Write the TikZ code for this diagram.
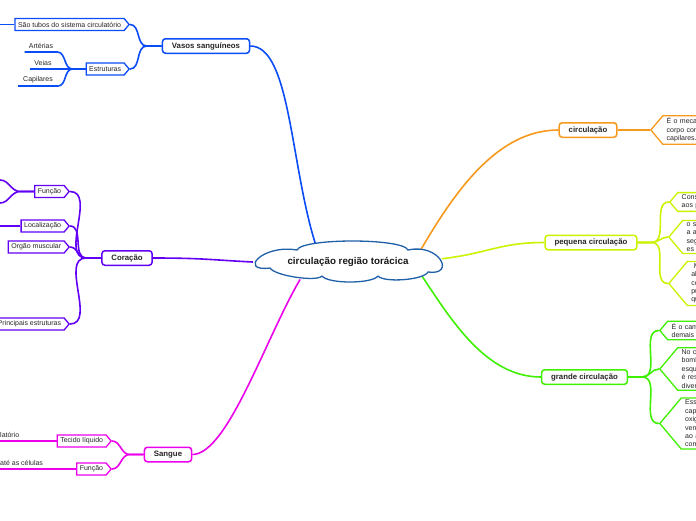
\documentclass[tikz,border=0pt]{standalone}
\usepackage{fontspec}
\setmainfont{Liberation Sans}
\usetikzlibrary{shapes.symbols,shapes.geometric,backgrounds}
\definecolor{MapCloud}{HTML}{2060A8}
\definecolor{MapBlue}{HTML}{0A4CF5}
\definecolor{MapViolet}{HTML}{6200F5}
\definecolor{MapMagenta}{HTML}{EC00EC}
\definecolor{MapOrange}{HTML}{F7991C}
\definecolor{MapLime}{HTML}{CCF200}
\definecolor{MapGreen}{HTML}{3FF000}
\newcommand{\leaffont}{\fontsize{7}{8.4}\selectfont}
\tikzset{
  topic/.style={ellipse,minimum width=190pt,minimum height=40pt,inner sep=0pt,text=black!90,
    font=\fontsize{9.8}{11}\selectfont\bfseries},
  cloudline/.style={draw=MapCloud,fill=white,line width=1.3pt,line join=round},
  branch/.style={draw,rounded corners=3pt,fill=white,line width=1.5pt,inner xsep=9.5pt,
    inner ysep=0pt,minimum height=14.5pt,text=black!85,font=\fontsize{7.8}{9}\selectfont\bfseries},
  leafL/.style={signal,signal to=east,signal pointer angle=100,draw,fill=white,line width=1.3pt,
    inner xsep=3pt,inner ysep=1pt,minimum height=12pt,text=black!85,font=\leaffont},
  leafR/.style={signal,signal to=west,signal pointer angle=100,draw,fill=white,line width=1.3pt,
    inner xsep=4pt,inner ysep=2pt,text width=40pt,align=left,text=black!85,font=\leaffont},
  uleaf/.style={inner xsep=4pt,inner ysep=3pt,text=black!85,font=\leaffont},
  link/.style={line width=1.6pt}
}

\begin{document}
\begin{tikzpicture}[x=1pt,y=-1pt]
  \useasboundingbox (0,0) rectangle (696,520);
  \clip (0,0) rectangle (696,520);
  % cloud outline
  \draw[cloudline] (297,250) .. controls +(5,-12) and +(-5,-12) .. (408,250)
    .. controls (440,243) and (456,276) .. (428,272)
    .. controls +(-4,8) and +(6,7) .. (378,276)
    .. controls +(-6,8) and +(6,8) .. (322,276)
    .. controls +(-5,6) and +(5,8) .. (270,268)
    .. controls (238,272) and (262,244) .. cycle;
  \node[topic] (root) at (348,262) {circulação região torácica};

  % Vasos sanguineos
  \node[branch,draw=MapBlue] (vasos) at (206,46) {Vasos sanguíneos};
  \node[leafL,draw=MapBlue,anchor=east] (tubos) at (130,24.5) {São tubos do sistema circulatório};
  \node[leafL,draw=MapBlue,anchor=east] (estr) at (130,69) {Estruturas};
  \node[uleaf,anchor=south] (art) at (41,52) {Artérias};
  \node[uleaf,anchor=south] (veias) at (43,69) {Veias};
  \node[uleaf,anchor=south,inner xsep=5pt] (cap) at (38,86) {Capilares};
  \coordinate (tubosend) at (0,24.5);

  % Coracao
  \node[branch,draw=MapViolet] (coracao) at (127,258) {Coração};
  \node[leafL,draw=MapViolet,anchor=east] (funcC) at (70,191.5) {Função};
  \node[leafL,draw=MapViolet,anchor=east] (loc) at (70,226) {Localização};
  \node[leafL,draw=MapViolet,anchor=east] (orgao) at (70,247) {Orgão muscular};
  \node[leafL,draw=MapViolet,anchor=east] (princ) at (70,324) {Principais estruturas};
  \coordinate (fcup) at (0,180);
  \coordinate (fcdown) at (0,203);
  \coordinate (locend) at (0,226);

  % Sangue
  \node[branch,draw=MapMagenta] (sangue) at (168,454.5) {Sangue};
  \node[leafL,draw=MapMagenta,anchor=east] (tecido) at (112,441) {Tecido líquido};
  \node[leafL,draw=MapMagenta,anchor=east] (funcS) at (112,469) {Função};
  \node[uleaf,anchor=south west] (lat) at (-4,441) {latório};
  \node[uleaf,anchor=south west] (ate) at (-4,469) {até as células};

  % circulacao
  \node[branch,draw=MapOrange] (circ) at (588,130) {circulação};
  \node[leafR,draw=MapOrange,anchor=west] (circ1) at (650,130) {É o mecan\\corpo com\\capilares.};

  % pequena circulacao
  \node[branch,draw=MapLime] (pequena) at (591,242.5) {pequena circulação};
  \node[leafR,draw=MapLime,anchor=west] (peq1) at (669,202) {Cons\\aos p};
  \node[leafR,draw=MapLime,anchor=west] (peq2) at (668,237) {o s\\a a\\seg\\es};
  \node[leafR,draw=MapLime,anchor=west] (peq3) at (668,283.5) {\hspace*{2.5pt}M\\al\\co\\pu\\qu};

  % grande circulacao
  \node[branch,draw=MapGreen] (grande) at (584.5,377) {grande circulação};
  \node[leafR,draw=MapGreen,anchor=west] (gr1) at (659,330.5) {É o cam\\demais};
  \node[leafR,draw=MapGreen,anchor=west] (gr2) at (659,369) {No c\\bomb\\esqu\\é res\\diver};
  \node[leafR,draw=MapGreen,anchor=west] (gr3) at (659,423.5) {Esse\\capi\\oxig\\veno\\ao â\\com};

  \begin{scope}[on background layer]
    \draw[link,MapBlue] (vasos.east) .. controls +(40,0) and +(-25,-80) .. (root.150);
    \draw[link,MapBlue] (vasos.west) -- ++(-15,0) to[out=180,in=0] (tubos.east);
    \draw[link,MapBlue] (vasos.west) -- ++(-15,0) to[out=180,in=0] (estr.east);
    \draw[link,MapBlue] (tubos.west) -- (tubosend);
    \draw[link,MapBlue] (estr.west) -- ++(-13,0) to[out=180,in=0] (art.south east) -- (art.south west);
    \draw[link,MapBlue] (estr.west) -- (veias.south west);
    \draw[link,MapBlue] (estr.west) -- ++(-13,0) to[out=180,in=0] (cap.south east) -- (cap.south west);

    \draw[link,MapViolet] (coracao.east) .. controls +(50,0) and +(-40,-2) .. (root.180);
    \draw[link,MapViolet] (coracao.west) -- ++(-15,0) to[out=180,in=0] (funcC.east);
    \draw[link,MapViolet] (coracao.west) -- ++(-15,0) to[out=180,in=0] (loc.east);
    \draw[link,MapViolet] (coracao.west) -- ++(-15,0) to[out=180,in=0] (orgao.east);
    \draw[link,MapViolet] (coracao.west) -- ++(-15,0) to[out=180,in=0] (princ.east);
    \draw[link,MapViolet] (funcC.west) -- ++(-14,0) to[out=180,in=0] (fcup);
    \draw[link,MapViolet] (funcC.west) -- ++(-14,0) to[out=180,in=0] (fcdown);
    \draw[link,MapViolet] (loc.west) -- (locend);

    \draw[link,MapMagenta] (sangue.east) .. controls +(35,0) and +(-35,60) .. (root.200);
    \draw[link,MapMagenta] (sangue.west) -- ++(-14,0) to[out=180,in=0] (tecido.east);
    \draw[link,MapMagenta] (sangue.west) -- ++(-14,0) to[out=180,in=0] (funcS.east);
    \draw[link,MapMagenta] (tecido.west) -- (lat.south east) -- (lat.south west);
    \draw[link,MapMagenta] (funcS.west) -- (ate.south east) -- (ate.south west);

    \draw[link,MapOrange] (root.10) .. controls +(35,-60) and +(-60,0) .. (circ.west);
    \draw[link,MapOrange] (circ.east) -- (circ1.west);

    \draw[link,MapLime] (root.2) .. controls +(45,-5) and +(-45,0) .. (pequena.west);
    \draw[link,MapLime] (pequena.east) -- ++(14,0) to[out=0,in=180] (peq1.west);
    \draw[link,MapLime] (pequena.east) -- ++(14,0) to[out=0,in=180] (peq2.west);
    \draw[link,MapLime] (pequena.east) -- ++(14,0) to[out=0,in=180] (peq3.west);

    \draw[link,MapGreen] (root.-10) .. controls +(30,45) and +(-55,0) .. (grande.west);
    \draw[link,MapGreen] (grande.east) -- ++(14,0) to[out=0,in=180] (gr1.west);
    \draw[link,MapGreen] (grande.east) -- ++(14,0) to[out=0,in=180] (gr2.west);
    \draw[link,MapGreen] (grande.east) -- ++(14,0) to[out=0,in=180] (gr3.west);
  \end{scope}
\end{tikzpicture}
\end{document}
